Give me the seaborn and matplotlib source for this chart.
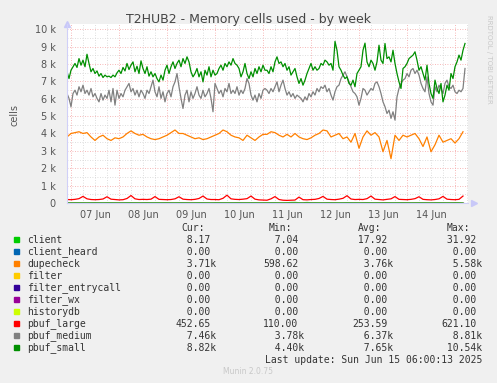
import matplotlib
matplotlib.use("Agg")
import matplotlib.pyplot as plt
import matplotlib.dates as mdates
from matplotlib.ticker import MultipleLocator, FuncFormatter
import seaborn as sns
import pandas as pd

# data in thousands of cells; pbuf_small / pbuf_medium read hourly, the rest every 2 hours
start = "2025-06-06 22:00"

pbuf_small = [
    7.55, 7.16, 7.64, 7.84, 8.03, 7.8, 8.31, 7.93, 8.22, 7.84, 8.56, 8.03, 7.55, 7.74, 7.45, 7.6, 7.3, 7.45, 7.22, 7.36,
    7.26, 7.3, 7.22, 7.36, 7.26, 7.49, 7.64, 7.45, 7.8, 7.6, 8.03, 7.68, 7.93, 8.12, 7.55, 7.87, 7.45, 8.18, 7.74, 7.45,
    7.84, 7.3, 7.55, 7.26, 7.45, 7.16, 6.97, 7.36, 7.07, 7.64,
    7.93, 7.45, 7.84, 8.12, 7.74, 8.03, 8.22, 7.84, 8.31, 8.03, 8.41, 8.12, 7.55, 7.26, 7.45, 7.74, 7.26, 7.55, 6.97, 7.64,
    7.36, 7.84, 7.26, 7.64, 7.36, 7.45, 7.74, 7.93, 7.64, 8.03, 7.84, 8.12, 7.93, 8.31, 8.03, 7.93, 7.74, 7.26, 7.55, 8.03,
    7.45, 7.16, 7.55, 7.26, 7.74, 7.45, 7.84, 7.55, 7.93, 7.64,
    7.64, 7.45, 7.84, 7.55, 8.12, 8.41, 8.03, 8.12, 7.84, 8.03, 7.64, 7.84, 7.36, 7.55, 7.74, 7.26, 6.88, 7.16, 6.78, 7.07,
    7.45, 7.74, 8.03, 7.64, 7.84, 7.64, 7.74, 8.03, 7.93, 8.22, 8.12, 7.93, 8.03, 7.64, 9.3, 8.79, 7.84, 7.64, 7.36, 7.16,
    7.26, 6.88, 6.78, 7.07, 6.69, 7.45, 7.64, 7.84, 8.79, 9.2,
    8.12, 7.84, 8.22, 8.03, 7.64, 8.12, 9.08, 8.22, 8.03, 9.18, 8.31, 8.41, 8.12, 8.79, 8.03, 7.45, 6.97, 6.59, 7.74, 7.84,
    8.03, 8.31, 8.41, 8.51, 8.7, 8.22, 7.64, 7.84, 7.45, 7.07, 7.93, 6.88, 6.3, 6.02, 7.07, 6.59, 6.3, 6.88, 5.82, 6.21,
    6.78, 6.49, 7.45, 7.16, 7.84, 8.12, 8.51, 8.22, 8.79, 9.18,
]
pbuf_medium = [
    6.3, 6.02, 5.54, 6.3, 6.49, 6.21, 6.69, 6.4, 6.78, 6.3, 6.49, 6.21, 6.59, 6.11, 6.3, 6.02, 5.82, 6.3, 5.92, 6.21,
    6.02, 6.49, 5.82, 6.59, 5.63, 6.49, 6.02, 6.3, 6.11, 6.49, 6.69, 6.88, 6.4, 6.59, 6.21, 6.49, 6.11, 6.49, 6.3, 6.02,
    6.49, 6.3, 6.69, 7.07, 6.4, 6.11, 6.69, 6.02, 6.4, 5.82,
    6.3, 6.49, 6.11, 6.69, 6.97, 7.45, 6.69, 6.02, 5.44, 6.21, 6.49, 5.82, 6.4, 6.02, 6.3, 6.69, 6.21, 6.02, 6.49, 6.11,
    6.3, 6.59, 6.02, 5.25, 6.88, 6.59, 6.3, 6.49, 6.11, 6.59, 6.4, 6.88, 6.3, 6.49, 6.3, 6.69, 6.21, 6.49, 6.3, 6.59,
    7.16, 6.88, 6.21, 5.92, 6.21, 5.82, 6.3, 6.02, 6.49, 6.59,
    6.49, 6.3, 6.59, 6.4, 6.69, 6.97, 6.4, 6.78, 7.07, 6.59, 6.21, 6.4, 6.11, 6.3, 6.02, 6.21, 6.11, 6.02, 5.82, 6.11,
    5.92, 6.3, 6.11, 6.4, 6.21, 6.59, 6.4, 6.69, 6.59, 6.78, 6.4, 6.59, 6.21, 5.92, 6.4, 6.69, 6.78, 7.16, 7.36, 7.55,
    7.26, 6.97, 6.69, 6.4, 6.3, 6.11, 5.63, 6.02, 6.59, 6.49,
    6.21, 6.4, 6.59, 6.49, 6.88, 6.97, 6.69, 6.3, 5.82, 5.54, 5.15, 5.34, 4.87, 5.25, 4.77, 6.11, 6.59, 6.88, 7.07, 7.16,
    7.45, 7.26, 7.64, 7.74, 7.45, 7.64, 7.36, 6.88, 6.59, 6.4, 7.26, 6.3, 5.82, 5.63, 6.69, 6.4, 6.78, 6.59, 6.3, 6.88,
    7.07, 6.69, 6.59, 6.78, 6.4, 6.3, 6.49, 6.4, 6.59, 7.74,
]
dupecheck = [
    3.8, 4.0, 4.05, 4.1, 4.0, 4.05, 3.8, 3.6, 3.8, 3.9, 3.7, 3.6, 3.75, 3.7, 3.8, 4.0, 4.15, 4.0, 3.9, 3.95, 3.8, 3.7, 3.65, 3.7, 3.8,
    3.9, 4.05, 4.2, 4.0, 4.0, 3.9, 3.8, 3.7, 3.75, 3.65, 3.7, 3.8, 3.9, 4.0, 4.2, 4.1, 3.9, 3.8, 3.75, 3.6, 3.9, 3.75, 3.6, 3.8, 3.95,
    3.95, 4.1, 4.05, 3.9, 3.8, 3.95, 3.8, 4.0, 3.8, 3.7, 3.65, 3.75, 3.9, 4.0, 4.2, 4.15, 3.8, 3.9, 4.0, 3.7, 3.8, 3.5, 4.0, 3.15, 3.8,
    4.15, 3.9, 4.05, 3.8, 2.95, 3.6, 2.55, 3.9, 3.6, 3.9, 3.8, 3.9, 4.0, 3.7, 3.25, 3.8, 2.95, 3.35, 3.9, 3.5, 3.6, 3.7, 3.45, 3.7, 4.1,
]
pbuf_large = [
    0.20, 0.19, 0.21, 0.25, 0.38, 0.24, 0.20, 0.19, 0.20, 0.23, 0.36, 0.22, 0.20, 0.18, 0.19, 0.26, 0.43, 0.24, 0.20, 0.21, 0.20, 0.22, 0.37, 0.21, 0.20,
    0.19, 0.20, 0.24, 0.36, 0.22, 0.20, 0.19, 0.21, 0.26, 0.40, 0.23, 0.20, 0.20, 0.19, 0.27, 0.45, 0.24, 0.21, 0.20, 0.22, 0.25, 0.40, 0.22, 0.18, 0.17,
    0.16, 0.24, 0.37, 0.20, 0.16, 0.15, 0.16, 0.17, 0.34, 0.19, 0.18, 0.20, 0.21, 0.26, 0.38, 0.22, 0.20, 0.19, 0.22, 0.27, 0.42, 0.23, 0.20, 0.21, 0.20,
    0.25, 0.40, 0.22, 0.20, 0.18, 0.21, 0.24, 0.37, 0.21, 0.20, 0.19, 0.21, 0.25, 0.36, 0.21, 0.19, 0.18, 0.20, 0.24, 0.38, 0.22, 0.20, 0.19, 0.21, 0.40,
]
client = [
    0.015, 0.016, 0.018, 0.017, 0.016, 0.015, 0.017, 0.018, 0.016, 0.015, 0.017, 0.018, 0.016, 0.015, 0.016, 0.018, 0.017, 0.016, 0.015, 0.017, 0.018, 0.016, 0.015, 0.016, 0.017,
    0.018, 0.016, 0.015, 0.017, 0.018, 0.016, 0.015, 0.016, 0.018, 0.017, 0.016, 0.015, 0.017, 0.018, 0.016, 0.015, 0.016, 0.017, 0.018, 0.016, 0.015, 0.017, 0.018, 0.016, 0.015,
    0.016, 0.018, 0.017, 0.016, 0.015, 0.017, 0.030, 0.031, 0.018, 0.016, 0.029, 0.017, 0.018, 0.016, 0.015, 0.017, 0.018, 0.016, 0.015, 0.016, 0.018, 0.017, 0.016, 0.015, 0.017,
    0.018, 0.016, 0.015, 0.016, 0.018, 0.017, 0.016, 0.015, 0.017, 0.018, 0.016, 0.015, 0.016, 0.017, 0.018, 0.016, 0.015, 0.017, 0.018, 0.016, 0.015, 0.016, 0.018, 0.017, 0.008,
]
zeros = [0.0] * len(client)

series = ["client", "client_heard", "dupecheck", "filter", "filter_entrycall",
          "filter_wx", "historydb", "pbuf_large", "pbuf_medium", "pbuf_small"]
colors = ["#00CC00", "#0066B3", "#FF8000", "#FFCC00", "#330099",
          "#990099", "#CCFF00", "#FF0000", "#808080", "#008F00"]
values = [client, zeros, dupecheck, zeros, zeros, zeros, zeros, pbuf_large, pbuf_medium, pbuf_small]

cur = ["8.17", "0.00", "3.71k", "0.00", "0.00", "0.00", "0.00", "452.65", "7.46k", "8.82k"]
mins = ["7.04", "0.00", "598.62", "0.00", "0.00", "0.00", "0.00", "110.00", "3.78k", "4.40k"]
avgs = ["17.92", "0.00", "3.76k", "0.00", "0.00", "0.00", "0.00", "253.59", "6.37k", "7.65k"]
maxs = ["31.92", "0.00", "5.58k", "0.00", "0.00", "0.00", "0.00", "621.10", "8.81k", "10.54k"]

frames = []
for s, v in zip(series, values):
    freq = "h" if len(v) == 200 else "2h"
    frames.append(pd.DataFrame({"time": pd.date_range(start, periods=len(v), freq=freq),
                                "value": v, "series": s}))
df = pd.concat(frames, ignore_index=True)

W, H = 497, 383
BG = "#F0F0F0"
fig = plt.figure(figsize=(W / 100, H / 100), dpi=100, facecolor=BG)
ax = fig.add_axes([67 / W, 1 - 203 / H, 401 / W, (203 - 24) / H])
ax.set_facecolor("white")

ax.set_xlim(pd.Timestamp("2025-06-06 22:00"), pd.Timestamp("2025-06-15 06:30"))
ax.set_ylim(0, 10.3)
ax.xaxis.set_major_locator(mdates.DayLocator())
ax.xaxis.set_minor_locator(mdates.HourLocator(byhour=[0, 6, 12, 18]))
ax.xaxis.set_major_formatter(FuncFormatter(lambda v, p: ""))
ax.xaxis.set_minor_formatter(FuncFormatter(
    lambda v, p: mdates.num2date(v).strftime("%d %b") if mdates.num2date(v).hour == 12 else ""))
ax.yaxis.set_major_locator(MultipleLocator(1))
ax.yaxis.set_minor_locator(MultipleLocator(0.5))
ax.yaxis.set_major_formatter(FuncFormatter(lambda v, p: "0" if v == 0 else f"{v:g} k"))
ax.grid(which="minor", color="#D4D4D4", linestyle=(0, (1, 2)), linewidth=0.6)
ax.grid(which="major", color="#F4A0A0", linestyle=(0, (1, 2)), linewidth=0.6)
ax.set_axisbelow(True)
ax.tick_params(which="both", length=0, labelsize=7, labelcolor="#555555")
ax.tick_params(axis="y", pad=8)
ax.tick_params(axis="x", which="minor", pad=5)

sns.lineplot(data=df, x="time", y="value", hue="series", hue_order=series,
             palette=dict(zip(series, colors)), estimator=None, legend=False,
             linewidth=0.9, ax=ax)
ax.set_xlabel("")
ax.set_ylabel("")

for s in ["top", "right"]:
    ax.spines[s].set_visible(False)
for s in ["left", "bottom"]:
    ax.spines[s].set_color("#D0D0F8")
    ax.spines[s].set_linewidth(0.8)
ax.plot([0], [1.0], marker="^", markersize=4, color="#C8C8F8", transform=ax.transAxes, clip_on=False)
ax.plot([1.015], [0], marker=">", markersize=4, color="#C8C8F8", transform=ax.transAxes, clip_on=False)


def px(x, y):
    return x / W, 1 - y / H


fig.text(*px(248, 19), "T2HUB2 - Memory cells used - by week", ha="center", va="center",
         fontsize=9, color="#444444")
fig.text(*px(14, 115), "cells", rotation=90, ha="center", va="center", fontsize=7, color="#555555")
fig.text(*px(489, 15), "RRDTOOL / TOBI OETIKER", rotation=270, ha="center", va="top",
         fontsize=5, color="#C8C8C8")

# legend table
mono = "DejaVu Sans Mono"
fs = 7
tc = "#333333"
hy = 227.7
for lbl, x in zip(["Cur:", "Min:", "Avg:", "Max:"], [181, 269, 358, 447]):
    fig.text(*px(x, hy), lbl, family=mono, fontsize=fs, color=tc, va="center")


def cell(s):
    if s.endswith("k"):
        return f"{s[:-1]:>6}k"
    return f"{s:>6}"


for i, name in enumerate(series):
    y = 239.7 + 12 * i
    fig.patches.append(plt.Rectangle(px(14, y + 2.5), 5 / W, 5 / H, color=colors[i],
                                     transform=fig.transFigure, figure=fig))
    fig.text(*px(27, y), name, family=mono, fontsize=fs, color=tc, va="center")
    for col, x in zip([cur, mins, avgs, maxs], [175, 263.3, 352.3, 441]):
        fig.text(*px(x, y), cell(col[i]), family=mono, fontsize=fs, color=tc, va="center")

fig.text(*px(482.5, 359.7), "Last update: Sun Jun 15 06:00:13 2025", family=mono, fontsize=fs,
         color=tc, ha="right", va="center")
fig.text(*px(248, 371.5), "Munin 2.0.75", fontsize=5.5, color="#C8C8C8", ha="center", va="center")

fig.savefig("out.png", dpi=100, facecolor=BG)
